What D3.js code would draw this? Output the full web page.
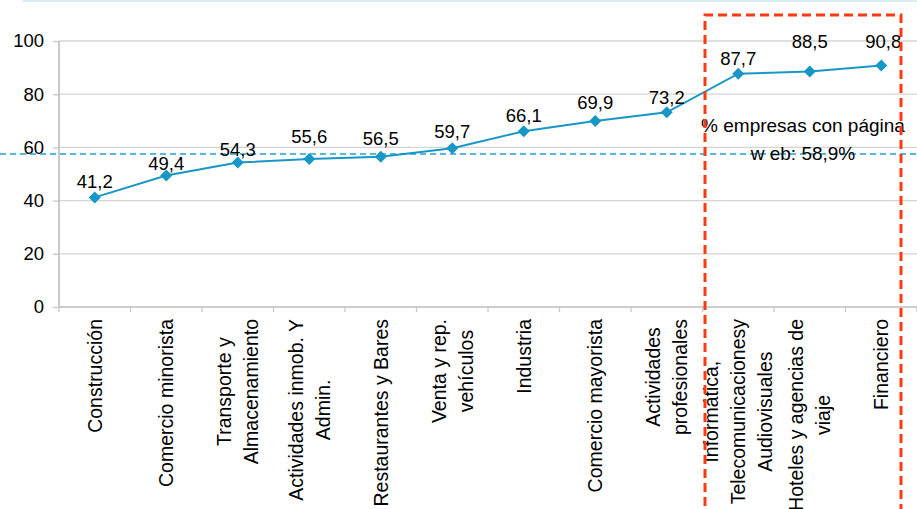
<!DOCTYPE html>
<html>
<head>
<meta charset="utf-8">
<script src="https://cdn.jsdelivr.net/npm/d3@7"></script>
<style>
  html, body { margin: 0; padding: 0; background: #ffffff; }
  svg { display: block; font-family: "Liberation Sans", Arial, sans-serif; }
</style>
</head>
<body>
<svg id="chart" width="917" height="509"></svg>
<script>
// ---- data ----
const categories = [
  ["Construcción"],
  ["Comercio minorista"],
  ["Transporte y", "Almacenamiento"],
  ["Actividades inmob. Y", "Admin."],
  ["Restaurantes y Bares"],
  ["Venta y rep.", "vehículos"],
  ["Industria"],
  ["Comercio mayorista"],
  ["Actividades", "profesionales"],
  ["Informática,", "Telecomunicacionesy", "Audiovisuales"],
  ["Hoteles y agencias de", "viaje"],
  ["Financiero"]
];
const values = [41.2, 49.4, 54.3, 55.6, 56.5, 59.7, 66.1, 69.9, 73.2, 87.7, 88.5, 90.8];
const valueLabels = ["41,2", "49,4", "54,3", "55,6", "56,5", "59,7", "66,1", "69,9", "73,2", "87,7", "88,5", "90,8"];
const yTicks = [0, 20, 40, 60, 80, 100];
const averageValue = 57.5;   // dashed reference line
const averageLabel = ["% empresas con página", "w eb: 58,9%"];
const highlightFrom = 9;     // first highlighted category (boxed)

// ---- layout ----
const svg = d3.select("#chart");
const plotLeft = 59, plotRight = 917, plotTop = 41, plotBottom = 307;
const lineColor = "#1797c6";

const x = d3.scaleBand().domain(d3.range(categories.length)).range([plotLeft, plotRight]).paddingInner(0).paddingOuter(0);
const y = d3.scaleLinear().domain([0, 100]).range([plotBottom, plotTop]);

// top thin border line
svg.append("line").attr("x1", 23).attr("x2", 917).attr("y1", 1).attr("y2", 1)
  .attr("stroke", "#d6edf4").attr("stroke-width", 2);

// gridlines + y axis
const yAxis = d3.axisLeft(y).tickValues(yTicks).tickSize(6).tickFormat(d3.format("d"));
const gy = svg.append("g").attr("transform", `translate(${plotLeft},0)`).call(yAxis);
gy.select(".domain").remove();
gy.selectAll(".tick line").attr("stroke", "#c8c8c8").attr("stroke-width", 1.3);
gy.selectAll(".tick text").attr("x", -15).attr("font-size", "18.5px").attr("fill", "#000")
  .attr("font-family", "Liberation Sans, Arial, sans-serif");

svg.append("g").selectAll("line.grid").data(yTicks.filter(d => d > 0)).join("line")
  .attr("x1", plotLeft).attr("x2", plotRight)
  .attr("y1", d => y(d)).attr("y2", d => y(d))
  .attr("stroke", "#d4d4d4").attr("stroke-width", 1.3);

// y axis line
svg.append("line").attr("x1", plotLeft).attr("x2", plotLeft).attr("y1", plotTop).attr("y2", plotBottom)
  .attr("stroke", "#bdbdbd").attr("stroke-width", 1.6);

// x axis line and ticks
svg.append("line").attr("x1", plotLeft).attr("x2", plotRight).attr("y1", plotBottom).attr("y2", plotBottom)
  .attr("stroke", "#bdbdbd").attr("stroke-width", 1.6);
const boundaries = d3.range(categories.length + 1).map(i => i < categories.length ? x(i) : x(categories.length - 1) + x.bandwidth());
svg.append("g").selectAll("line").data(boundaries).join("line")
  .attr("x1", d => d).attr("x2", d => d).attr("y1", plotBottom).attr("y2", plotBottom + 5)
  .attr("stroke", "#c8c8c8").attr("stroke-width", 1.3);

// category labels (rotated)
const catFont = 19.5, lineSpacing = 27;
categories.forEach((lines, i) => {
  const cx = x(i) + x.bandwidth() / 2;
  const g = svg.append("g");
  const texts = lines.map((t, j) => g.append("text")
    .attr("font-size", catFont + "px").attr("fill", "#000")
    .attr("text-anchor", "middle").attr("dominant-baseline", "central")
    .text(t));
  const maxLen = d3.max(texts, t => t.node().getComputedTextLength());
  const cy = 319 + maxLen / 2;
  texts.forEach((t, j) => {
    const dx = (j - (lines.length - 1) / 2) * lineSpacing;
    t.attr("transform", `translate(${cx + dx},${cy}) rotate(-90)`);
  });
});

// average dashed line
svg.append("line").attr("x1", 0).attr("x2", plotRight).attr("y1", y(averageValue)).attr("y2", y(averageValue))
  .attr("stroke", "#1da2d2").attr("stroke-width", 1.6).attr("stroke-dasharray", "6,4");

// series line
const line = d3.line().x((d, i) => x(i) + x.bandwidth() / 2).y(d => y(d));
svg.append("path").datum(values).attr("d", line)
  .attr("fill", "none").attr("stroke", lineColor).attr("stroke-width", 2);

// diamond markers
const diamond = d3.symbol().type(d3.symbolSquare).size(72);
svg.append("g").selectAll("path").data(values).join("path")
  .attr("d", diamond)
  .attr("transform", (d, i) => `translate(${x(i) + x.bandwidth() / 2},${y(d)}) rotate(45)`)
  .attr("fill", lineColor);

// value labels
const labelLift = [16, 12, 13, 23, 18, 17, 16, 19, 15, 15, 30, 24];
svg.append("g").selectAll("text").data(values).join("text")
  .attr("x", (d, i) => x(i) + x.bandwidth() / 2 + (i === values.length - 1 ? 2 : 0))
  .attr("y", (d, i) => y(d) - labelLift[i])
  .attr("text-anchor", "middle").attr("dominant-baseline", "central")
  .attr("font-size", "18.5px").attr("fill", "#000")
  .text((d, i) => valueLabels[i]);

// annotation text for average
const annX = 803;
svg.append("text").attr("x", annX).attr("y", 125).attr("text-anchor", "middle")
  .attr("dominant-baseline", "central").attr("font-size", "19px").attr("fill", "#000")
  .text(averageLabel[0]);
svg.append("text").attr("x", annX).attr("y", 153).attr("text-anchor", "middle")
  .attr("dominant-baseline", "central").attr("font-size", "19px").attr("fill", "#000")
  .text(averageLabel[1]);

// highlight box (red dashed)
const boxLeft = x(highlightFrom) + 2.5;
const boxRight = x(categories.length - 1) + x.bandwidth() - 16;
svg.append("path")
  .attr("d", `M${boxLeft},${520} L${boxLeft},15 L${boxRight},15 L${boxRight},${520}`)
  .attr("fill", "none").attr("stroke", "#ff3a12").attr("stroke-width", 3)
  .attr("stroke-dasharray", "9,5");
</script>
</body>
</html>
